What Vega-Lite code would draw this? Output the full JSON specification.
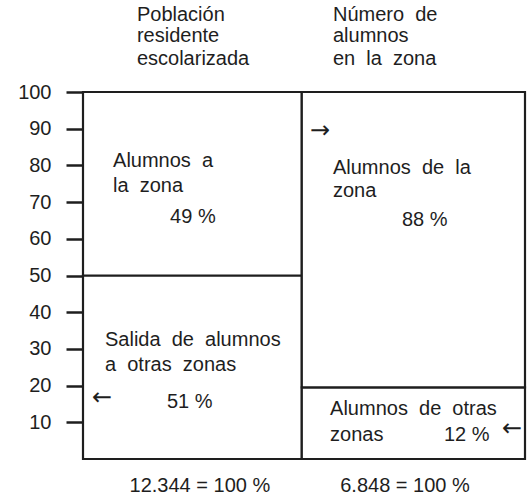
{
  "$schema": "https://vega.github.io/schema/vega-lite/v6.json",
  "width": 442,
  "height": 367,
  "autosize": {"type": "none"},
  "padding": {"left": 83, "top": 92, "right": 7, "bottom": 37},
  "background": "white",
  "config": {
    "view": {"stroke": null},
    "font": "Liberation Sans",
    "text": {"font": "Liberation Sans", "fontSize": 20, "color": "#1e1e1e"}
  },
  "datasets": {
    "segments": [
      {"columna": "Población residente escolarizada", "segmento": "Salida de alumnos a otras zonas", "pct": 51, "x0": 0, "x1": 0.99, "y0": 0, "y1": 50},
      {"columna": "Población residente escolarizada", "segmento": "Alumnos a la zona", "pct": 49, "x0": 0, "x1": 0.99, "y0": 50, "y1": 100},
      {"columna": "Número de alumnos en la zona", "segmento": "Alumnos de otras zonas", "pct": 12, "x0": 0.99, "x1": 2, "y0": 0, "y1": 19.5},
      {"columna": "Número de alumnos en la zona", "segmento": "Alumnos de la zona", "pct": 88, "x0": 0.99, "x1": 2, "y0": 19.5, "y1": 100}
    ],
    "notes": [
      {"t": "Población", "px": 0.244, "py": 119.3},
      {"t": "residente", "px": 0.244, "py": 113.6},
      {"t": "escolarizada", "px": 0.244, "py": 107.4},
      {"t": "Número \u00a0de", "px": 1.131, "py": 119.3},
      {"t": "alumnos", "px": 1.131, "py": 113.6},
      {"t": "en \u00a0la \u00a0zona", "px": 1.131, "py": 107.4},
      {"t": "Alumnos \u00a0a", "px": 0.136, "py": 79.6},
      {"t": "la \u00a0zona", "px": 0.136, "py": 72.8},
      {"t": "49 %", "px": 0.394, "py": 64.3},
      {"t": "Salida \u00a0de \u00a0alumnos", "px": 0.0995, "py": 30.8},
      {"t": "a \u00a0otras \u00a0zonas", "px": 0.0995, "py": 24.0},
      {"t": "51 %", "px": 0.38, "py": 13.9},
      {"t": "Alumnos \u00a0de \u00a0la", "px": 1.131, "py": 77.7},
      {"t": "zona", "px": 1.131, "py": 71.4},
      {"t": "88 %", "px": 1.443, "py": 63.5},
      {"t": "Alumnos \u00a0de \u00a0otras", "px": 1.118, "py": 12.0},
      {"t": "zonas", "px": 1.118, "py": 4.9},
      {"t": "12 %", "px": 1.633, "py": 4.9}
    ],
    "arrows": [
      {"t": "←", "px": 0.041, "py": 14.6},
      {"t": "→", "px": 1.027, "py": 87.5},
      {"t": "←", "px": 1.896, "py": 6.3}
    ],
    "totals": [
      {"t": "12.344 = 100 %", "px": 0.529, "py": -9.0},
      {"t": "6.848 = 100 %", "px": 1.457, "py": -9.0}
    ]
  },
  "layer": [
    {
      "data": {"name": "segments"},
      "mark": {"type": "rect", "fill": "white", "stroke": "#1e1e1e", "strokeWidth": 2.2},
      "encoding": {
        "x": {"field": "x0", "type": "quantitative", "scale": {"domain": [0, 2], "nice": false, "zero": false}, "axis": null},
        "x2": {"field": "x1"},
        "y": {
          "field": "y0", "type": "quantitative",
          "scale": {"domain": [0, 100], "nice": false},
          "axis": {
            "values": [10, 20, 30, 40, 50, 60, 70, 80, 90, 100],
            "title": null, "grid": false, "domain": false,
            "tickSize": 17, "tickWidth": 2.5, "tickColor": "#1e1e1e",
            "labelFont": "Liberation Sans", "labelFontSize": 20, "labelColor": "#1e1e1e",
            "labelPadding": 15
          }
        },
        "y2": {"field": "y1"}
      }
    },
    {
      "data": {"name": "notes"},
      "mark": {"type": "text", "baseline": "alphabetic", "align": "left"},
      "encoding": {
        "x": {"field": "px", "type": "quantitative"},
        "y": {"field": "py", "type": "quantitative"},
        "text": {"field": "t"}
      }
    },
    {
      "data": {"name": "arrows"},
      "mark": {"type": "text", "baseline": "alphabetic", "align": "left", "font": "DejaVu Sans", "fontSize": 24},
      "encoding": {
        "x": {"field": "px", "type": "quantitative"},
        "y": {"field": "py", "type": "quantitative"},
        "text": {"field": "t"}
      }
    },
    {
      "data": {"name": "totals"},
      "mark": {"type": "text", "baseline": "alphabetic", "align": "center"},
      "encoding": {
        "x": {"field": "px", "type": "quantitative"},
        "y": {"field": "py", "type": "quantitative"},
        "text": {"field": "t"}
      }
    }
  ]
}
